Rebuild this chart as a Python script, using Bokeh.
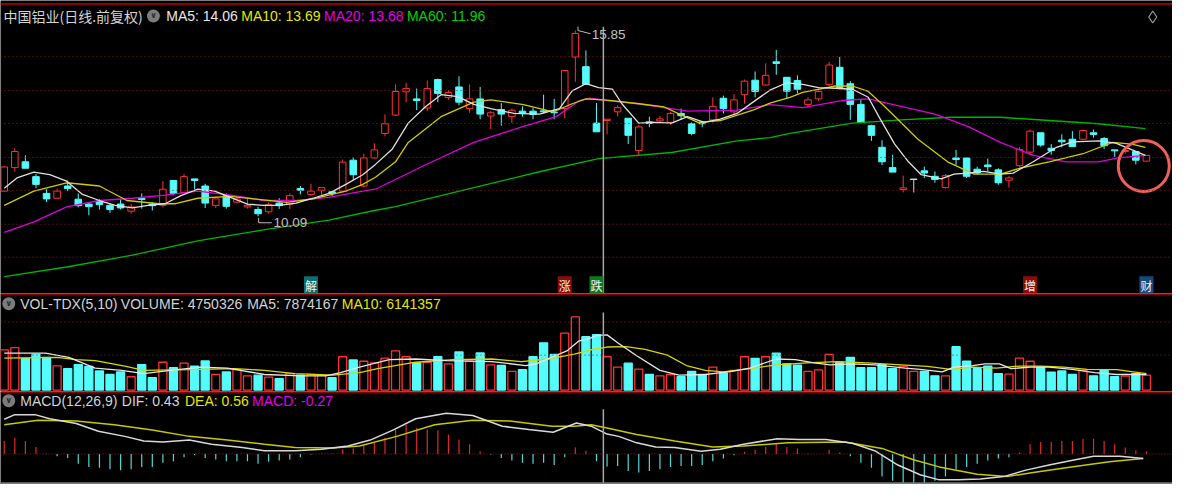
import numpy as np
from bokeh.plotting import figure
from bokeh.layouts import column
from bokeh.models import Range1d, Span, Label, ColumnDataSource
from bokeh.embed import file_html
from bokeh.resources import INLINE

# ---------------- data ----------------
opens = [10.87, 11.60, 11.78, 11.32, 10.80, 10.65, 11.03, 10.62, 10.47, 10.57,
         10.43, 10.47, 10.25, 10.65, 10.47, 10.43, 11.20, 10.83, 11.25, 11.03,
         10.43, 10.73, 10.53, 10.38, 10.30, 10.23, 10.50, 10.47, 10.95, 10.77,
         10.90, 10.85, 10.87, 11.83, 11.03, 11.90, 12.66, 13.23, 13.95, 13.73,
         13.45, 14.33, 13.77, 14.10, 13.43, 13.73, 13.20, 13.40, 13.18, 13.35,
         13.35, 13.36, 13.32, 13.43, 15.03, 14.73, 12.98, 13.06, 13.33, 13.13,
         12.13, 13.02, 13.05, 13.00, 13.28, 12.96, 13.00, 13.08, 13.75, 13.33,
         13.86, 14.31, 14.16, 14.88, 14.40, 14.30, 13.56, 13.73, 14.18, 14.71,
         14.20, 13.56, 12.90, 12.23, 11.60, 10.92, 11.23, 11.50, 11.33, 10.98,
         11.90, 11.90, 11.55, 11.68, 11.53, 11.21, 11.66, 12.08, 12.68, 12.20,
         12.45, 12.48, 12.48, 12.68, 12.50, 12.15, 12.10, 12.10, 11.80]
highs = [11.65, 12.20, 11.98, 11.40, 10.93, 10.95, 11.20, 10.80, 10.52, 10.62,
         10.50, 10.62, 10.47, 10.80, 10.52, 11.18, 11.20, 11.40, 11.25, 11.10,
         10.63, 10.80, 10.68, 10.63, 10.38, 10.52, 10.65, 10.80, 11.03, 11.10,
         10.98, 10.88, 11.85, 11.92, 12.03, 12.35, 13.25, 14.18, 14.23, 14.05,
         14.30, 14.36, 14.00, 14.43, 14.18, 14.10, 13.35, 13.60, 13.43, 13.50,
         13.45, 13.86, 13.73, 14.61, 15.85, 15.23, 13.60, 13.10, 13.53, 13.13,
         12.93, 13.18, 13.20, 13.33, 13.43, 13.00, 13.05, 13.78, 13.83, 13.88,
         14.33, 14.58, 14.83, 15.25, 14.40, 14.46, 13.78, 14.00, 14.88, 15.03,
         14.28, 13.73, 12.93, 12.45, 12.00, 11.35, 11.23, 11.63, 11.48, 11.40,
         12.15, 11.90, 11.63, 11.88, 11.58, 11.33, 12.23, 12.78, 12.68, 12.33,
         12.63, 12.73, 12.78, 12.78, 12.55, 12.15, 12.18, 12.10, 11.98]
lows = [10.85, 11.47, 11.58, 10.96, 10.53, 10.63, 10.87, 10.37, 10.12, 10.30,
        10.20, 10.30, 10.17, 10.33, 10.27, 10.37, 10.75, 10.83, 10.93, 10.35,
        10.35, 10.33, 10.50, 10.33, 10.09, 10.17, 10.32, 10.32, 10.77, 10.72,
        10.72, 10.72, 10.83, 11.22, 10.98, 11.88, 12.57, 13.20, 13.63, 13.38,
        13.35, 13.63, 13.70, 13.53, 13.30, 13.10, 12.80, 12.90, 12.98, 13.18,
        13.10, 13.28, 13.10, 13.13, 14.26, 14.18, 12.71, 12.63, 13.18, 12.33,
        11.98, 12.85, 12.97, 12.93, 13.08, 12.60, 12.85, 13.00, 13.28, 13.23,
        13.58, 13.78, 14.13, 14.48, 13.73, 13.90, 13.46, 13.66, 14.13, 14.03,
        13.08, 12.98, 12.43, 11.68, 11.46, 10.83, 10.83, 11.28, 11.13, 10.95,
        11.68, 11.28, 11.38, 11.48, 11.07, 10.98, 11.63, 11.98, 12.25, 12.00,
        12.23, 12.25, 12.45, 12.53, 12.18, 11.93, 12.03, 11.70, 11.80]
closes = [11.62, 12.10, 11.58, 11.08, 10.63, 10.87, 10.95, 10.42, 10.39, 10.45,
          10.30, 10.35, 10.38, 10.61, 10.42, 10.93, 10.80, 11.32, 11.20, 10.50,
          10.63, 10.40, 10.63, 10.43, 10.17, 10.45, 10.42, 10.73, 10.90, 10.87,
          10.98, 10.80, 11.77, 11.38, 11.90, 12.15, 12.96, 13.96, 14.05, 13.68,
          14.05, 13.90, 13.93, 13.63, 13.73, 13.26, 13.30, 13.26, 13.38, 13.28,
          13.25, 13.33, 13.30, 14.61, 15.76, 14.18, 12.71, 13.10, 13.46, 12.60,
          12.86, 12.97, 13.11, 13.28, 13.21, 12.66, 12.96, 13.50, 13.43, 13.70,
          14.28, 13.96, 14.46, 14.83, 13.97, 14.03, 13.70, 13.96, 14.78, 14.08,
          13.56, 13.00, 12.60, 11.78, 11.46, 10.97, 11.23, 11.43, 11.23, 11.35,
          11.85, 11.33, 11.43, 11.63, 11.13, 11.28, 12.16, 12.73, 12.30, 12.13,
          12.40, 12.25, 12.75, 12.63, 12.28, 12.12, 12.13, 11.83, 11.98]
volumes = [5720000, 6050000, 4530000, 5080000, 4670000, 3460000, 3050000, 3640000, 3370000, 2730000,
           2220000, 2590000, 1900000, 3640000, 1760000, 3970000, 3190000, 3840000, 3420000, 4160000,
           2220000, 2590000, 2910000, 2030000, 2120000, 1840000, 1620000, 2350000, 2120000, 2220000,
           2120000, 1760000, 4750000, 4290000, 4110000, 3880000, 4570000, 5580000, 4750000, 3880000,
           3970000, 4750000, 3740000, 5440000, 4110000, 5300000, 3600000, 3500000, 2670000, 2910000,
           4750000, 6740000, 5080000, 8130000, 10430000, 7620000, 7890000, 4750326, 3280000, 3840000,
           3000000, 2220000, 2030000, 2220000, 1900000, 2670000, 2220000, 3280000, 2450000, 2810000,
           4750000, 4530000, 4750000, 5260000, 3740000, 3560000, 2670000, 2870000, 5080000, 3970000,
           4670000, 3190000, 3190000, 3640000, 3050000, 3370000, 2670000, 2670000, 2030000, 2030000,
           6190000, 4110000, 3050000, 3420000, 2350000, 2260000, 4570000, 4110000, 3280000, 2540000,
           2730000, 2220000, 2810000, 2030000, 2910000, 1900000, 1980000, 2350000, 2120000]
macd_hist = [0.28, 0.35, 0.28, 0.15, 0.01, -0.05, -0.09, -0.21, -0.28, -0.30,
             -0.33, -0.35, -0.33, -0.28, -0.28, -0.19, -0.16, -0.07, -0.03, -0.09,
             -0.12, -0.16, -0.16, -0.16, -0.21, -0.17, -0.14, -0.12, -0.07, -0.01,
             0.01, 0.01, 0.10, 0.12, 0.19, 0.23, 0.35, 0.52, 0.63, 0.56,
             0.53, 0.51, 0.42, 0.31, 0.21, 0.06, -0.01, -0.09, -0.14, -0.19,
             -0.21, -0.19, -0.24, -0.07, 0.14, 0.07, -0.16, -0.27, -0.26, -0.37,
             -0.40, -0.37, -0.33, -0.28, -0.26, -0.26, -0.24, -0.16, -0.10, -0.03,
             0.05, 0.09, 0.15, 0.23, 0.15, 0.12, 0.01, 0.00, 0.09, 0.03,
             -0.05, -0.19, -0.30, -0.49, -0.58, -0.65, -0.63, -0.65, -0.58, -0.49,
             -0.33, -0.28, -0.21, -0.14, -0.10, -0.07, 0.03, 0.21, 0.26, 0.26,
             0.28, 0.28, 0.33, 0.33, 0.28, 0.21, 0.14, 0.08, 0.06]

# moving-average lines (bar index, value)
ma5_x = [0, 1.2, 2.8, 4.3, 5.9, 7.4, 9, 10.5, 12.1, 13.6, 15.2, 16.7, 18.3, 19.9, 21.4, 23, 24.5, 26,
         27.6, 29.2, 30.7, 32.3, 33.9, 35.1, 36.7, 38.2, 39.8, 41.3, 42.9, 44.4, 46, 48.2, 50.6, 52.5,
         53.7, 55, 56.2, 57.5, 58.4, 60, 61.5, 63.1, 64.6, 66.2, 67.7, 69.3, 70.8, 72.4, 74, 75.5, 77,
         78.6, 80.2, 81.7, 82.7, 84.2, 85.5, 86.7, 88.6, 89.8, 91.1, 92.6, 94.2, 95.4, 97.3, 99.5, 101,
         103.5, 105.1, 107.9]
ma5_y = [10.96, 11.28, 11.46, 11.38, 11.18, 10.77, 10.58, 10.43, 10.35, 10.43, 10.48, 10.73, 10.93,
         10.87, 10.68, 10.47, 10.43, 10.43, 10.50, 10.65, 10.80, 11.08, 11.38, 11.70, 12.18, 12.98,
         13.48, 13.86, 13.80, 13.56, 13.43, 13.28, 13.26, 13.43, 13.98, 14.20, 14.08, 14.03, 13.58,
         12.98, 13.00, 12.98, 13.18, 13.00, 13.10, 13.28, 13.63, 14.00, 14.23, 14.18, 14.08, 14.06,
         14.03, 13.78, 13.18, 12.33, 11.78, 11.38, 11.25, 11.40, 11.43, 11.48, 11.40, 11.43, 11.78,
         12.23, 12.40, 12.43, 12.36, 11.98]
ma10_x = [0, 2.8, 5.9, 9, 11.6, 14.6, 16.2, 18.3, 21.4, 24.5, 26.7, 29.2, 32.3, 33.9, 35.1, 37, 38.2,
          41.3, 44.4, 46, 49.1, 51.9, 53.7, 55, 57, 60, 62.4, 63.7, 65.6, 67.7, 70.8, 72.4, 74.3, 75.5,
          78.6, 80.2, 81.7, 83.3, 86.4, 89.2, 91.7, 94.2, 96, 98.8, 102, 104.8, 106.6, 107.9]
ma10_y = [10.43, 10.87, 11.13, 11.03, 10.58, 10.48, 10.48, 10.65, 10.71, 10.60, 10.52, 10.63, 10.87,
          11.08, 11.30, 11.78, 12.38, 13.18, 13.63, 13.70, 13.55, 13.33, 13.58, 13.73, 13.69, 13.58,
          13.48, 13.28, 13.00, 13.06, 13.38, 13.60, 13.78, 13.93, 14.13, 14.13, 13.96, 13.48, 12.48,
          11.78, 11.40, 11.40, 11.58, 11.78, 12.03, 12.38, 12.33, 12.23]
ma20_x = [0, 2.8, 5.9, 9, 12.1, 15.2, 18.3, 21.4, 24.5, 27.6, 30.7, 33.9, 35.1, 39.8, 44.4, 49.1, 52.2,
          54.4, 55.3, 57, 60, 64.6, 69.3, 72.4, 75.5, 79.2, 81.7, 84.8, 88, 91.1, 94.2, 97.3, 100.4,
          103.5, 105.3, 107.9]
ma20_y = [9.59, 9.92, 10.38, 10.58, 10.65, 10.75, 10.87, 10.75, 10.58, 10.58, 10.68, 10.87, 10.93,
          11.68, 12.38, 12.88, 13.18, 13.68, 13.75, 13.68, 13.58, 13.35, 13.38, 13.55, 13.46, 13.68,
          13.73, 13.50, 13.26, 12.88, 12.38, 11.98, 11.78, 11.78, 11.90, 11.98]
ma60_x = [0, 5.9, 12, 18.3, 24.5, 30.7, 35, 37, 44.4, 50.6, 56.2, 63.1, 69.3, 72.4, 74.3, 80.2, 84.8,
          89.5, 94.2, 98.8, 103.5, 107.9]
ma60_y = [8.22, 8.52, 8.88, 9.33, 9.67, 9.97, 10.27, 10.39, 10.98, 11.47, 11.88, 12.07, 12.43, 12.53,
          12.66, 12.98, 13.08, 13.16, 13.16, 13.06, 12.96, 12.81]

# volume moving averages, millions of shares
vma5_x = [0, 3.9, 6.1, 8.6, 11.1, 13.2, 15.7, 18.6, 21.1, 24.6, 28.2, 30.4, 31.8, 33.6, 36.4, 38.9,
          41.8, 46.1, 49.3, 50.3, 53.2, 54.3, 55.5, 56, 57, 58, 59.8, 62, 63.8, 66.3, 67, 68.8, 70.5,
          73, 74.8, 76.6, 78.1, 80.2, 82.3, 85.2, 86.6, 88.7, 89.8, 91.6, 92.7, 94.1, 95.2, 97, 98.8,
          101, 103.1, 105.2, 108]
vma5_y = [5.26, 5.26, 4.67, 3.14, 2.81, 2.35, 2.81, 3.28, 3.14, 2.22, 2.03, 2.03, 2.49, 3.28, 4.34,
          4.43, 4.20, 4.06, 3.50, 3.74, 5.58, 6.97, 7.45, 7.80, 7.874167, 6.74, 4.89, 2.81, 2.12, 2.22,
          2.35, 2.67, 3.14, 4.43, 4.34, 3.88, 3.60, 3.74, 3.60, 3.14, 2.95, 2.59, 3.28, 3.50, 3.74,
          3.74, 3.05, 3.28, 3.28, 2.95, 2.49, 2.22, 2.22]
vma10_x = [0, 5, 6.8, 8.6, 11.4, 13.2, 17.5, 21.8, 24.6, 27.5, 31.1, 33.6, 35.3, 38.9, 42.5, 46.1,
           48.9, 51.4, 53.9, 55.5, 57, 58.8, 60.6, 62.7, 64.5, 66.3, 68, 70.5, 73, 75.9, 78.8, 81.6,
           84.8, 87.3, 89.5, 91.6, 93.8, 96, 98.1, 100.2, 102.4, 105.2, 108]
vma10_y = [4.57, 4.67, 4.34, 4.20, 3.42, 2.81, 2.91, 3.05, 2.81, 2.35, 2.12, 2.49, 3.05, 3.97, 4.34,
           4.43, 4.06, 4.43, 5.12, 5.75, 6.141357, 6.19, 5.82, 4.99, 3.50, 2.81, 2.59, 3.05, 3.60,
           3.88, 4.06, 3.88, 3.60, 3.37, 2.95, 3.28, 3.14, 3.42, 3.42, 3.28, 2.95, 2.91, 2.35]

dif_x = [0, 1, 2.9, 4.3, 6.8, 8.9, 11.4, 13.2, 15, 17.5, 19.6, 22.5, 24.6, 27.5, 30, 32.5, 34.6, 36.8,
         38.9, 41.8, 44.3, 47.1, 49.6, 51.9, 54.1, 55.5, 57, 58.1, 59.8, 61.6, 63.4, 65.9, 67.7, 69.9,
         73.1, 75.2, 77.7, 80.2, 82.3, 84.5, 86.6, 88.4, 90.2, 92.3, 94.5, 96.6, 98.8, 100.9, 103,
         105.5, 107.7]
dif_y = [0.75, 0.85, 0.85, 0.76, 0.66, 0.49, 0.38, 0.28, 0.26, 0.30, 0.21, 0.14, 0.07, 0.07, 0.10,
         0.17, 0.30, 0.52, 0.76, 0.88, 0.83, 0.60, 0.53, 0.47, 0.67, 0.60, 0.43, 0.38, 0.24, 0.15,
         0.14, 0.06, 0.10, 0.21, 0.33, 0.31, 0.31, 0.23, 0.07, -0.24, -0.45, -0.56, -0.56, -0.54,
         -0.49, -0.35, -0.24, -0.14, -0.05, -0.05, -0.10]
dea_x = [0, 3.2, 6.8, 10.4, 14, 17.5, 21.1, 24.6, 27.5, 31.1, 33.6, 37.1, 40.7, 44.3, 47.8, 51.8,
         53.9, 55.5, 57, 59.8, 63.4, 67, 69.9, 74.1, 79.5, 83, 85.9, 88.4, 92, 94.8, 97.3, 100.9,
         104.5, 107.7]
dea_y = [0.63, 0.73, 0.71, 0.63, 0.52, 0.38, 0.30, 0.21, 0.14, 0.13, 0.17, 0.38, 0.63, 0.73, 0.71,
         0.60, 0.60, 0.63, 0.56, 0.42, 0.28, 0.15, 0.17, 0.24, 0.26, 0.12, -0.12, -0.28, -0.44,
         -0.49, -0.40, -0.28, -0.17, -0.10]

event_idx = [29, 53, 56, 97, 108]
event_txt = ["解", "涨", "跌", "增", "财"]
cursor_idx = 57
stock_title = "中国铝业(日线.前复权)"
price_ma_text = ["MA5: 14.06", "MA10: 13.69", "MA20: 13.68", "MA60: 11.96"]
vol_ma_text = ["MA5: 7874167", "MA10: 6141357"]
macd_text = ["DIF: 0.43", "DEA: 0.56"]

# ---------------- styling / layout ----------------
BG = "#000000"
RED = "#ff3232"
CYAN = "#54fcfc"
FLAT = "#d8d8d8"
GRID = "#a01818"
SEP = "#8c0000"
W = 1172
H1, H2, H3 = 293, 98, 93
REF_W = 1188.0
SX = W / REF_W
BAR0_X, BAR_DX = 3.8, 10.72      # reference pixel layout of the bars
FONT = "Liberation Sans"
CJK = "Noto Sans CJK SC"
HSIZE = "14px"

o = np.array(opens); h = np.array(highs); l = np.array(lows); c = np.array(closes)
v = np.array(volumes, dtype=float)
n = len(c)
idx = np.arange(n)

xr = Range1d(-BAR0_X / BAR_DX, (REF_W - BAR0_X) / BAR_DX)

def fx(X):
    return (X - BAR0_X) / BAR_DX

hmax = h.max()
PPX = 33.3
def py(Y):
    return hmax - (Y - 31.0) / PPX

VPP = volumes[cursor_idx] / 34.3
def vy(Y):
    return (402.0 - Y) * VPP

def my(Y):
    return (468.3 - Y) / 48.0

def mkfig(height, y0, y1):
    f = figure(width=W, height=height, x_range=xr, y_range=Range1d(y0, y1),
               output_backend="svg", toolbar_location=None, tools="",
               x_axis_location=None, y_axis_location=None, min_border=0,
               background_fill_color=BG, border_fill_color=BG, outline_line_color=None)
    f.xgrid.visible = False
    f.ygrid.visible = False
    return f

def hline(f, loc, color, dash="solid", width=1):
    f.add_layout(Span(location=loc, dimension="width", line_color=color,
                      line_dash=dash, line_width=width))

def header(f, X, yv, text, color, font=FONT, size=HSIZE):
    f.add_layout(Label(x=X * SX, y=yv, x_units="screen", y_units="data", text=text,
                       text_color=color, text_font=font, text_font_size=size,
                       text_baseline="middle", text_align="left"))

def icon(f, X, yv):
    f.scatter([fx(X)], [yv], marker="circle", size=13, fill_color="#7c7c7c", line_color=None)
    f.add_layout(Label(x=fx(X), y=yv, x_units="data", y_units="data", text="∨",
                       text_color="#2a2a2a", text_font="DejaVu Sans", text_font_size="8px",
                       text_font_style="bold", text_align="center", text_baseline="middle"))

cur_x = cursor_idx - 0.35

# ---------------- price panel ----------------
p1 = mkfig(H1, py(302.5), py(0))
for Y in [58, 93, 127, 162, 196, 231, 265]:
    hline(p1, py(Y), GRID, "1 3")
hline(p1, py(3.5), SEP, width=2)

cols = np.where(c > o, RED, np.where(c < o, CYAN, FLAT))
fills = np.where(c > o, BG, cols)
top = np.maximum(o, c)
bot = np.minimum(o, c)
top = np.maximum(top, bot + 0.015)
src = ColumnDataSource(dict(x=idx, h=h, l=l, top=top, bot=bot, col=cols, fill=fills))
p1.segment(x0="x", y0="h", x1="x", y1="top", line_color="col", line_width=1, source=src)
p1.segment(x0="x", y0="bot", x1="x", y1="l", line_color="col", line_width=1, source=src)
p1.vbar(x="x", width=0.62, top="top", bottom="bot", fill_color="fill", line_color="col",
        line_width=1, source=src)

p1.line(ma60_x, ma60_y, line_color="#00b400", line_width=1.4)
p1.line(ma20_x, ma20_y, line_color="#dc00dc", line_width=1.3)
p1.line(ma10_x, ma10_y, line_color="#cccc00", line_width=1.3)
p1.line(ma5_x, ma5_y, line_color="#e0e0e0", line_width=1.3)

# cursor
p1.segment([cur_x], [py(27)], [cur_x], [py(302.5)], line_color="#a8a8a8", line_width=1.5)

# high / low markers
ih = int(np.argmax(h)); il = int(np.argmin(l))
lmin = l[il]
p1.line([ih + 0.25, ih + 0.25, ih + 1.45], [hmax + 0.12, hmax, hmax - 0.1],
        line_color="#b8b8b8", line_width=1)
p1.add_layout(Label(x=ih + 1.55, y=hmax - 0.11, text=f"{hmax:.2f}", text_color="#c0c0c0",
                    text_font=FONT, text_font_size="13.5px", text_baseline="middle"))
p1.line([il + 0.05, il + 0.05, il + 1.3], [lmin - 0.05, lmin - 0.2, lmin - 0.2],
        line_color="#b8b8b8", line_width=1)
p1.add_layout(Label(x=il + 1.45, y=lmin - 0.2, text=f"{lmin:.2f}", text_color="#c0c0c0",
                    text_font=FONT, text_font_size="13.5px", text_baseline="middle"))

# event tags
ev_bg = ["#0e6e6e", "#8b0a0a", "#0b7a1e", "#8b0a0a", "#154a7c"]
for i, t, bg in zip(event_idx, event_txt, ev_bg):
    p1.add_layout(Label(x=i, y=py(294.5), text=t, text_color="#f2f2f2", text_font=CJK,
                        text_font_size="12px", text_align="center", text_baseline="middle",
                        background_fill_color=bg, background_fill_alpha=1.0, padding=1))

# highlight circle round the last bars
p1.scatter([n - 1 - 0.25], [l[-1] - 0.15], marker="circle", size=51, fill_alpha=0,
           line_color="#f0605a", line_width=3)

# header
header(p1, 3, py(16), stock_title, "#d4d4d4", font=CJK, size="14px")
icon(p1, 155, py(16))
header(p1, 168, py(16), price_ma_text[0], "#e8e8e8")
header(p1, 244, py(16), price_ma_text[1], "#e6e600")
header(p1, 328, py(16), price_ma_text[2], "#e600e6")
header(p1, 412, py(16), price_ma_text[3], "#00d200")
p1.scatter([fx(1168)], [py(17)], marker="diamond", size=12, fill_alpha=0,
           line_color="#9a9a9a", line_width=1.2)

# ---------------- volume panel ----------------
p2 = mkfig(H2, vy(403.5), vy(302.5))
hline(p2, vy(332), GRID, "1 3")
hline(p2, vy(366), GRID, "1 3")
hline(p2, vy(303.4), SEP, width=2)
vcol = np.where(c >= o, RED, CYAN)
vfill = np.where(c >= o, BG, CYAN)
vsrc = ColumnDataSource(dict(x=idx, v=v, col=vcol, fill=vfill))
p2.vbar(x="x", width=0.76, top="v", bottom=0, fill_color="fill", line_color="col",
        line_width=1.3, source=vsrc)
p2.line(vma10_x, np.array(vma10_y) * 1e6, line_color="#d8d800", line_width=1.3)
p2.line(vma5_x, np.array(vma5_y) * 1e6, line_color="#e6e6e6", line_width=1.3)
p2.segment([cur_x], [vy(322)], [cur_x], [vy(403.5)], line_color="#a8a8a8", line_width=1.5)
icon(p2, 8.4, vy(313))
header(p2, 20, vy(313), "VOL-TDX(5,10)", "#d4d4d4")
header(p2, 122, vy(313), f"VOLUME: {volumes[cursor_idx]}", "#d4d4d4")
header(p2, 250, vy(313), vol_ma_text[0], "#d4d4d4")
header(p2, 346, vy(313), vol_ma_text[1], "#e6e600")

# ---------------- MACD panel ----------------
p3 = mkfig(H3, my(500), my(403.5))
hline(p3, 0, GRID, "1 2")
hline(p3, my(404.2), SEP, width=2)
hline(p3, my(498.6), "#7a7a7a", width=2)
mh = np.array(macd_hist)
mcol = np.where(mh >= 0, "#e02828", "#4fd8d8")
p3.segment(x0=idx, y0=np.zeros(n), x1=idx, y1=mh, line_color=mcol, line_width=1.2)
p3.line(dea_x, dea_y, line_color="#c8c800", line_width=1.5)
p3.line(dif_x, dif_y, line_color="#d8d8d8", line_width=1.5)
p3.segment([cur_x], [my(422)], [cur_x], [my(500)], line_color="#a8a8a8", line_width=1.5)
icon(p3, 8.4, my(413))
header(p3, 20, my(413), "MACD(12,26,9)", "#d4d4d4")
header(p3, 123, my(413), macd_text[0], "#d4d4d4")
header(p3, 187, my(413), macd_text[1], "#e6e600")
header(p3, 255, my(413), f"MACD: {macd_hist[cursor_idx]:.2f}", "#e600e6")

layout = column(p1, p2, p3, spacing=0)
open("out.html", "w").write(file_html(layout, INLINE))
